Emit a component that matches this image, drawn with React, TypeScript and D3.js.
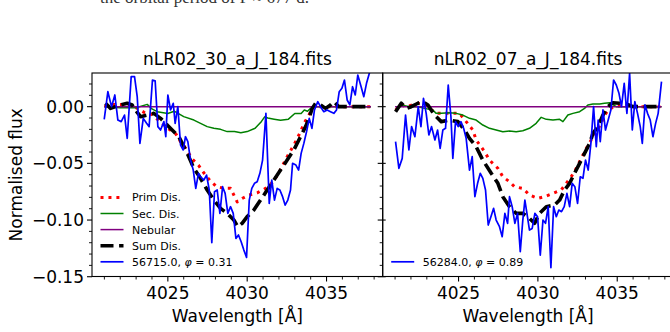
import React from 'react';
import * as d3 from 'd3';

// ---------- data ----------
const titles = ['nLR02_30_a_J_184.fits', 'nLR02_07_a_J_184.fits'];
const obsLabels = ['56715.0, ', '56284.0, '];
const phaseLabels = [' = 0.31', ' = 0.89'];
const legendNames = ['Prim Dis.', 'Sec. Dis.', 'Nebular', 'Sum Dis.'];

const xMajorTicks = [4025, 4030, 4035];
const xMinorTicks = [4021, 4022, 4023, 4024, 4026, 4027, 4028, 4029, 4031, 4032, 4033, 4034, 4036, 4037, 4038];
const yMajorTicks = [-0.15, -0.1, -0.05, 0.0];
const yMinorTicks = [-0.14, -0.13, -0.12, -0.11, -0.09, -0.08, -0.07, -0.06, -0.04, -0.03, -0.02, -0.01, 0.01, 0.02];

const nebular: [number, number][] = [[4021.0, 0], [4037.8, 0]];

const obsA: [number, number][] = [
  [4020.99, -0.0112], [4021.22, 0.0132], [4021.45, 0.0], [4021.66, 0.0103], [4021.85, -0.0118],
  [4022.06, -0.0132], [4022.27, -0.0074], [4022.44, -0.0279], [4022.69, 0.0265], [4022.90, 0.0265],
  [4023.07, 0.0088], [4023.24, -0.0324], [4023.45, -0.0103], [4023.66, -0.0147], [4023.82, -0.0176],
  [4024.03, 0.0235], [4024.20, 0.0229], [4024.37, -0.0176], [4024.54, -0.0206], [4024.75, -0.0132],
  [4024.87, -0.0265], [4025.00, 0.0103], [4025.17, -0.0029], [4025.34, 0.0029], [4025.46, -0.0147],
  [4025.63, 0.0], [4025.80, -0.0338], [4025.97, -0.0382], [4026.11, -0.0265], [4026.26, -0.0309],
  [4026.43, -0.0471], [4026.60, -0.0559], [4026.76, -0.0721], [4026.93, -0.0588], [4027.06, -0.0618],
  [4027.27, -0.0647], [4027.44, -0.0603], [4027.61, -0.0735], [4027.77, -0.12], [4027.94, -0.075],
  [4028.11, -0.0735], [4028.28, -0.0941], [4028.45, -0.0706], [4028.61, -0.0765], [4028.78, -0.0941],
  [4028.95, -0.0882], [4029.12, -0.0941], [4029.29, -0.1162], [4029.45, -0.1132], [4029.62, -0.1191],
  [4029.79, -0.1265], [4029.96, -0.1329], [4030.13, -0.0824], [4030.29, -0.0721], [4030.46, -0.0676],
  [4030.63, -0.0662], [4030.80, -0.0588], [4030.97, -0.0471], [4031.18, -0.0059], [4031.39, -0.0853],
  [4031.55, -0.0647], [4031.72, -0.0824], [4031.89, -0.0721], [4032.06, -0.0735], [4032.23, -0.0794],
  [4032.39, -0.0868], [4032.56, -0.0824], [4032.73, -0.0735], [4032.86, -0.05], [4033.07, -0.0515],
  [4033.24, -0.0559], [4033.40, -0.0412], [4033.57, -0.0324], [4033.74, -0.0221], [4033.91, -0.0103],
  [4034.08, -0.0191], [4034.24, -0.0029], [4034.45, 0.0044], [4034.62, 0.0], [4034.83, -0.0044],
  [4035.04, -0.0029], [4035.25, -0.0044], [4035.46, -0.0059], [4035.63, -0.0029], [4035.80, 0.0132],
  [4035.97, 0.0162], [4036.13, 0.0235], [4036.30, 0.0059], [4036.47, 0.0015], [4036.64, 0.0176],
  [4036.81, 0.0103], [4036.97, 0.0279], [4037.18, 0.0176], [4037.35, 0.0088], [4037.52, 0.0206],
  [4037.73, 0.031],
];

const primA: [number, number][] = [
  [4021.0, 0.0], [4021.5, 0.002], [4022.0, 0.002], [4022.5, 0.001], [4023.0, -0.001], [4023.5, -0.005],
  [4024.0, -0.007], [4024.5, -0.013], [4025.0, -0.019], [4025.5, -0.024], [4025.8, -0.031],
  [4026.2, -0.038], [4026.5, -0.0456], [4026.95, -0.052], [4027.3, -0.059], [4027.65, -0.065],
  [4028.07, -0.0706], [4028.57, -0.072], [4028.95, -0.072], [4029.37, -0.084], [4029.68, -0.081],
  [4030.1, -0.078], [4030.63, -0.076], [4031.16, -0.072], [4031.51, -0.068], [4031.93, -0.06],
  [4032.46, -0.0456], [4032.77, -0.038], [4033.05, -0.031], [4033.36, -0.022], [4033.61, -0.014],
  [4033.89, -0.0074], [4034.16, 0.0], [4035.0, 0.0], [4036.0, 0.0], [4037.8, 0.0],
];

const secA: [number, number][] = [
  [4021.0, 0.0], [4022.0, -0.001], [4023.0, -0.001], [4023.7, 0.002], [4024.0, -0.002],
  [4024.33, -0.0044], [4025.0, -0.006], [4025.4, -0.004], [4026.0, -0.0088], [4026.64, -0.0118],
  [4027.06, -0.0147], [4027.48, -0.0176], [4027.9, -0.0191], [4028.32, -0.02], [4028.74, -0.022],
  [4029.2, -0.022], [4029.6, -0.023], [4030.0, -0.022], [4030.5, -0.019], [4030.9, -0.013],
  [4031.1, -0.009], [4031.3, -0.01], [4031.7, -0.011], [4032.1, -0.012], [4032.6, -0.011],
  [4033.0, -0.006], [4033.4, -0.006], [4033.6, -0.003], [4033.8, -0.004], [4034.1, 0.0],
  [4035.0, 0.0], [4037.8, 0.0],
];

const sumA: [number, number][] = [
  [4021.07, 0.003], [4021.39, -0.0015], [4021.70, 0.0], [4022.02, 0.0015], [4022.44, 0.003],
  [4022.75, 0.0015], [4022.96, -0.003], [4023.28, -0.0088], [4023.70, -0.0074], [4024.12, -0.0059],
  [4024.54, -0.0103], [4024.96, -0.0162], [4025.27, -0.0206], [4025.69, -0.0265], [4026.01, -0.0353],
  [4026.32, -0.0441], [4026.64, -0.0544], [4027.06, -0.0632], [4027.48, -0.0735], [4027.90, -0.0824],
  [4028.32, -0.0897], [4028.74, -0.0941], [4029.16, -0.1], [4029.41, -0.1059], [4029.68, -0.1029],
  [4030.0, -0.097], [4030.42, -0.0912], [4030.84, -0.0824], [4031.26, -0.0735], [4031.68, -0.0647],
  [4032.10, -0.0559], [4032.52, -0.0471], [4032.94, -0.0382], [4033.36, -0.0265], [4033.68, -0.0176],
  [4033.89, -0.0103], [4034.10, -0.0015], [4034.31, 0.003], [4034.62, 0.0015], [4034.94, -0.0015],
  [4035.25, 0.0015], [4035.46, 0.0044], [4035.78, 0.0], [4036.30, 0.0], [4037.77, 0.0],
];

const obsB: [number, number][] = [
  [4021.03, -0.0309], [4021.24, -0.0544], [4021.45, -0.0456], [4021.66, -0.0074], [4021.87, -0.0382],
  [4022.04, -0.0176], [4022.25, -0.0265], [4022.46, 0.0], [4022.63, -0.0176], [4022.79, 0.0074],
  [4022.96, -0.0059], [4023.13, -0.025], [4023.30, -0.0176], [4023.51, -0.0294], [4023.68, -0.0206],
  [4023.84, -0.0368], [4024.01, -0.0206], [4024.18, -0.0191], [4024.35, 0.0191], [4024.52, -0.0088],
  [4024.64, -0.0456], [4024.81, -0.0132], [4024.98, -0.0176], [4025.15, -0.0132], [4025.32, -0.0191],
  [4025.48, -0.0279], [4025.69, -0.0559], [4025.86, -0.0441], [4026.03, -0.0794], [4026.20, -0.0676],
  [4026.37, -0.0588], [4026.53, -0.0632], [4026.70, -0.0735], [4026.87, -0.1044], [4027.04, -0.0971],
  [4027.21, -0.0897], [4027.37, -0.1], [4027.58, -0.1059], [4027.75, -0.1147], [4027.92, -0.0941],
  [4028.09, -0.1029], [4028.21, -0.0794], [4028.38, -0.0882], [4028.55, -0.1029], [4028.72, -0.0941],
  [4028.89, -0.1279], [4029.05, -0.1], [4029.18, -0.0824], [4029.31, -0.0941], [4029.47, -0.1088],
  [4029.64, -0.1074], [4029.81, -0.0941], [4029.98, -0.0971], [4030.15, -0.1309], [4030.32, -0.1],
  [4030.48, -0.1029], [4030.65, -0.0882], [4030.82, -0.142], [4030.99, -0.0882], [4031.16, -0.0971],
  [4031.32, -0.0912], [4031.49, -0.0926], [4031.66, -0.0882], [4031.83, -0.0765], [4032.0, -0.0882],
  [4032.16, -0.0676], [4032.33, -0.0706], [4032.50, -0.0853], [4032.67, -0.0618], [4032.84, -0.0632],
  [4033.0, -0.0471], [4033.17, -0.0559], [4033.34, -0.0324], [4033.51, 0.0], [4033.68, -0.0353],
  [4033.80, -0.0118], [4033.93, -0.0309], [4034.10, -0.0029], [4034.26, -0.0206], [4034.43, -0.0118],
  [4034.60, -0.0029], [4034.77, 0.0235], [4034.94, 0.0191], [4035.11, 0.0118], [4035.27, 0.0],
  [4035.44, 0.0206], [4035.61, -0.0059], [4035.78, 0.0294], [4035.95, -0.0206], [4036.11, 0.0044],
  [4036.28, -0.0059], [4036.45, -0.0176], [4036.58, -0.0324], [4036.75, 0.0015], [4036.91, -0.0059],
  [4037.08, -0.0118], [4037.25, -0.0265], [4037.42, -0.0147], [4037.58, -0.0059], [4037.79, 0.0221],
];

const primB: [number, number][] = [
  [4021.03, -0.003], [4021.39, 0.0015], [4021.70, 0.0], [4022.44, 0.003], [4022.86, 0.0015],
  [4023.59, -0.0059], [4024.22, -0.0059], [4025.06, -0.0059], [4025.48, -0.0132], [4025.90, -0.0206],
  [4026.11, -0.0294], [4026.64, -0.0397], [4026.95, -0.0471], [4027.48, -0.0544], [4027.79, -0.0618],
  [4028.21, -0.0662], [4028.53, -0.0706], [4029.05, -0.0721], [4029.47, -0.0779], [4030.0, -0.0809],
  [4030.42, -0.0794], [4030.95, -0.0765], [4031.47, -0.0735], [4031.79, -0.0676], [4032.10, -0.0618],
  [4032.42, -0.0544], [4032.73, -0.0456], [4033.05, -0.0368], [4033.36, -0.0294], [4033.68, -0.0221],
  [4033.99, -0.0147], [4034.20, -0.0074], [4034.52, -0.0015], [4035.36, 0.0015], [4036.20, 0.0],
  [4037.79, 0.0],
];

const secB: [number, number][] = [
  [4021.03, -0.003], [4021.39, 0.0015], [4021.91, 0.0], [4022.44, 0.0], [4022.86, -0.0015],
  [4023.38, -0.003], [4023.59, -0.0059], [4023.91, -0.0059], [4024.43, -0.0053], [4024.85, -0.0059],
  [4025.27, -0.0074], [4025.69, -0.0103], [4026.11, -0.0118], [4026.53, -0.0162], [4026.95, -0.0191],
  [4027.37, -0.0206], [4027.79, -0.0221], [4028.21, -0.0215], [4028.63, -0.0221], [4029.05, -0.0212],
  [4029.47, -0.0191], [4029.89, -0.0147], [4030.21, -0.0094], [4030.53, -0.0112], [4030.95, -0.0118],
  [4031.37, -0.0112], [4031.58, -0.0132], [4031.89, -0.0074], [4032.21, -0.0059], [4032.63, -0.0044],
  [4032.94, -0.0015], [4033.15, 0.0015], [4033.47, 0.0024], [4033.89, 0.0024], [4034.20, 0.003],
  [4034.52, 0.0035], [4034.94, 0.0], [4037.79, 0.0],
];

const sumB: [number, number][] = [
  [4021.03, -0.0044], [4021.39, 0.003], [4021.70, -0.0015], [4022.02, 0.0], [4022.44, 0.003],
  [4022.75, 0.0044], [4023.07, 0.0015], [4023.49, -0.0074], [4023.91, -0.0132], [4024.43, -0.0118],
  [4024.96, -0.0132], [4025.38, -0.0206], [4025.69, -0.0279], [4026.11, -0.0353], [4026.53, -0.0471],
  [4027.06, -0.0588], [4027.48, -0.0676], [4027.79, -0.0794], [4028.21, -0.0882], [4028.63, -0.0941],
  [4029.05, -0.0941], [4029.47, -0.0985], [4029.79, -0.1029], [4030.11, -0.0941], [4030.53, -0.0882],
  [4031.05, -0.0868], [4031.37, -0.0824], [4031.68, -0.0735], [4032.0, -0.0676], [4032.31, -0.0588],
  [4032.63, -0.05], [4032.94, -0.0412], [4033.26, -0.0324], [4033.47, -0.0235], [4033.78, -0.0176],
  [4034.10, -0.0074], [4034.41, 0.0], [4034.73, 0.0035], [4035.15, 0.003], [4035.57, 0.0024],
  [4035.99, 0.0], [4037.79, 0.0],
];

// ---------- layout / style ----------
const W = 670, H = 332;
const TOP = 73, BOTTOM = 276.5;
const PW = 290.7;
const panelX = [92, 382.7];
const XDOM: [number, number] = [4020.22, 4038.54];
const YDOM: [number, number] = [-0.1498, 0.0297];
const FONT = 'DejaVu Sans';

const styles = {
  prim: { stroke: '#ff0000', width: 3, dash: '3 4.95' },
  sec: { stroke: '#008000', width: 1.5, dash: undefined as string | undefined },
  neb: { stroke: '#800080', width: 1.5, dash: undefined as string | undefined },
  sum: { stroke: '#000000', width: 3.6, dash: '13 5.6' },
  obs: { stroke: '#0000ff', width: 1.7, dash: undefined as string | undefined },
};

const fmtY = (v: number) => (v < -1e-9 ? '\u2212' : '') + Math.abs(v).toFixed(2);

function Panel({ idx, prim, sec, sum, obs, full }: any) {
  const x0 = panelX[idx];
  const x = d3.scaleLinear().domain(XDOM).range([x0, x0 + PW]);
  const y = d3.scaleLinear().domain(YDOM).range([BOTTOM, TOP]);
  const line = d3.line<[number, number]>().x(d => x(d[0])).y(d => y(d[1]));
  const clipId = `clip${idx}`;
  const series = [
    { d: prim, s: styles.prim },
    { d: sec, s: styles.sec },
    { d: nebular, s: styles.neb },
    { d: sum, s: styles.sum },
    { d: obs, s: styles.obs },
  ];
  const legendRows: any[] = full
    ? [
        { s: styles.prim, label: legendNames[0] },
        { s: styles.sec, label: legendNames[1] },
        { s: styles.neb, label: legendNames[2] },
        { s: styles.sum, label: legendNames[3] },
        { s: styles.obs, obs: true },
      ]
    : [{ s: styles.obs, obs: true }];
  const rowH = 16.1;
  const lastY = 261.8;
  const cx = x0 + PW / 2;
  return (
    <g>
      <defs>
        <clipPath id={clipId}>
          <rect x={x0} y={TOP} width={PW} height={BOTTOM - TOP} />
        </clipPath>
      </defs>
      <g clipPath={`url(#${clipId})`}>
        {series.map((o, i) => (
          <path key={i} d={line(o.d) || ''} fill="none" stroke={o.s.stroke} strokeWidth={o.s.width}
            strokeDasharray={o.s.dash} strokeLinejoin="round" />
        ))}
      </g>
      {/* legend */}
      {legendRows.map((r, i) => {
        const ry = lastY - (legendRows.length - 1 - i) * rowH;
        return (
          <g key={i}>
            <line x1={x0 + 8.5} x2={x0 + 31.5} y1={ry} y2={ry} stroke={r.s.stroke} strokeWidth={r.s.width}
              strokeDasharray={r.s.dash} />
            <text x={x0 + 40} y={ry + 4} fontFamily={FONT} fontSize={11} fill="#000">
              {r.obs ? (
                <>
                  {obsLabels[idx]}
                  <tspan fontStyle="italic">φ</tspan>
                  {phaseLabels[idx]}
                </>
              ) : r.label}
            </text>
          </g>
        );
      })}
      {/* spines */}
      <rect x={x0} y={TOP} width={PW} height={BOTTOM - TOP} fill="none" stroke="#000" strokeWidth={1.1} />
      {/* x ticks */}
      {xMajorTicks.map(t => (
        <g key={'M' + t}>
          <line x1={x(t)} x2={x(t)} y1={BOTTOM} y2={BOTTOM + 5} stroke="#000" strokeWidth={1.1} />
          <text x={x(t)} y={299} textAnchor="middle" fontFamily={FONT} fontSize={17}>{t}</text>
        </g>
      ))}
      {xMinorTicks.map(t => (
        <line key={'m' + t} x1={x(t)} x2={x(t)} y1={BOTTOM} y2={BOTTOM + 3} stroke="#000" strokeWidth={0.9} />
      ))}
      {/* y ticks (left side, outward) */}
      {yMajorTicks.map(t => (
        <g key={'yM' + t}>
          <line x1={x0 - 5} x2={x0} y1={y(t)} y2={y(t)} stroke="#000" strokeWidth={1.1} />
          {idx === 0 && (
            <text x={x0 - 8} y={y(t) + 6} textAnchor="end" fontFamily={FONT} fontSize={17}>{fmtY(t)}</text>
          )}
          {idx === 1 && <line x1={x0} x2={x0 + 3} y1={y(t)} y2={y(t)} stroke="#000" strokeWidth={1.1} />}
        </g>
      ))}
      {yMinorTicks.map(t => (
        <line key={'ym' + t} x1={x0 - 3} x2={x0} y1={y(t)} y2={y(t)} stroke="#000" strokeWidth={0.9} />
      ))}
      {/* title */}
      <text x={cx} y={65} textAnchor="middle" fontFamily={FONT} fontSize={17}>{titles[idx]}</text>
      {/* x label */}
      <text x={cx} y={322} textAnchor="middle" fontFamily={FONT} fontSize={17}>Wavelength [Å]</text>
    </g>
  );
}

export default function App() {
  return (
    <svg width={W} height={H} viewBox={`0 0 ${W} ${H}`}
      style={{ position: 'absolute', left: 0, top: 0, background: '#fff', overflow: 'hidden' }}>
      <rect x={0} y={0} width={W} height={H} fill="#fff" />
      <text x={100} y={3} fontFamily="Liberation Serif" fontSize={17} fill="#333">
        the orbital period of P ≈ 677 d.
      </text>
      <Panel idx={0} prim={primA} sec={secA} sum={sumA} obs={obsA} full />
      <Panel idx={1} prim={primB} sec={secB} sum={sumB} obs={obsB} full={false} />
      <text transform={`translate(22, ${(TOP + BOTTOM) / 2}) rotate(-90)`} textAnchor="middle"
        fontFamily={FONT} fontSize={17}>Normalised flux</text>
    </svg>
  );
}
